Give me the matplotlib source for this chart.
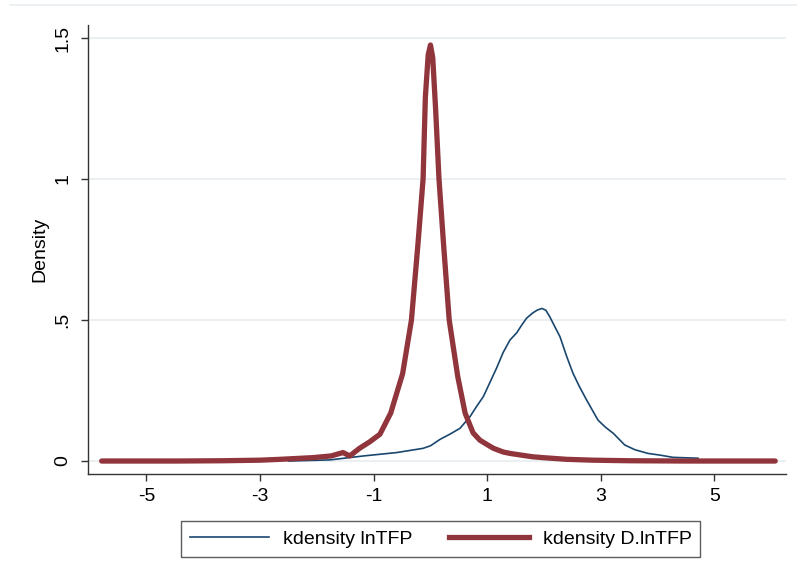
import matplotlib
matplotlib.use("Agg")
import matplotlib.pyplot as plt
from matplotlib.lines import Line2D

plt.rcParams["font.family"] = ["Liberation Sans", "DejaVu Sans"]

# kdensity lnTFP
tfp_x = [-2.5, -1.77, -1.18, -0.595, -0.13, 0.0, 0.17, 0.34, 0.52, 0.695, 0.81, 0.93,
         1.05, 1.165, 1.28, 1.40, 1.52, 1.60, 1.69, 1.80, 1.88, 1.96, 2.03, 2.10,
         2.18, 2.28, 2.40, 2.51, 2.62, 2.75, 2.95, 3.08, 3.22, 3.42, 3.6, 3.83, 4.04,
         4.27, 4.71]
tfp_y = [0.0, 0.004, 0.018, 0.030, 0.045, 0.054, 0.077, 0.095, 0.116, 0.157, 0.193,
         0.228, 0.28, 0.330, 0.385, 0.429, 0.455, 0.48, 0.506, 0.525, 0.535, 0.541,
         0.535, 0.512, 0.48, 0.441, 0.37, 0.311, 0.265, 0.216, 0.145, 0.12, 0.098,
         0.057, 0.04, 0.027, 0.021, 0.013, 0.010]

# kdensity D.lnTFP
dtfp_x = [-5.79, -4.5, -3.65, -3.0, -2.65, -2.07, -1.75, -1.54, -1.42, -1.25, -1.07,
          -0.89, -0.70, -0.49, -0.335, -0.22, -0.13, -0.09, -0.04, 0.0, 0.04, 0.09,
          0.15, 0.23, 0.33, 0.48, 0.61, 0.75, 0.87, 1.0, 1.11, 1.28, 1.40, 1.63,
          1.80, 1.98, 2.40, 2.86, 3.5, 4.5, 6.07]
dtfp_y = [0.0, 0.0, 0.001, 0.003, 0.006, 0.012, 0.018, 0.030, 0.018, 0.045, 0.068,
          0.095, 0.17, 0.31, 0.50, 0.77, 1.00, 1.29, 1.44, 1.475, 1.43, 1.25,
          1.00, 0.77, 0.50, 0.30, 0.17, 0.10, 0.074, 0.058, 0.045, 0.032, 0.027,
          0.020, 0.015, 0.012, 0.006, 0.003, 0.001, 0.0, 0.0]

xticks = [-5, -3, -1, 1, 3, 5]
yticks = [0, 0.5, 1, 1.5]
yticklabels = ["0", ".5", "1", "1.5"]

NAVY = "#1a476f"
MAROON = "#90353b"
GRID = "#e8eff1"
FS = 14

fig = plt.figure(figsize=(7.97, 5.80), dpi=100)
ax = fig.add_axes([88 / 797, 1 - 474 / 580, (786 - 88) / 797, (474 - 25) / 580])

for v in yticks:
    ax.axhline(v, color=GRID, lw=1.3, zorder=0)

ax.plot(tfp_x, tfp_y, color=NAVY, lw=1.2, zorder=2)
ax.plot(dtfp_x, dtfp_y, color=MAROON, lw=3.8, solid_capstyle="round",
        solid_joinstyle="round", zorder=3)

ax.set_xlim(-6.03, 6.26)
ax.set_ylim(-0.046, 1.546)
ax.set_xticks(xticks)
ax.set_xticklabels([str(t) for t in xticks])
ax.set_yticks(yticks)
ax.set_yticklabels(yticklabels, rotation=90, va="center")
ax.tick_params(axis="both", labelsize=FS, length=5, width=1, color="#333333")
ax.tick_params(axis="x", pad=5)
ax.tick_params(axis="y", pad=7)
ax.set_ylabel("Density", fontsize=FS, labelpad=4)

for side in ("top", "right"):
    ax.spines[side].set_visible(False)
for side in ("left", "bottom"):
    ax.spines[side].set_color("#333333")
    ax.spines[side].set_linewidth(1)

# faint outer border line at the top
fig.add_artist(Line2D([10 / 797, 1], [1 - 4.5 / 580, 1 - 4.5 / 580],
                      transform=fig.transFigure, color=GRID, lw=1.2))

handles = [Line2D([], [], color=NAVY, lw=1.2), Line2D([], [], color=MAROON, lw=3.8)]
leg = fig.legend(handles, ["kdensity lnTFP", "kdensity D.lnTFP"], loc="center",
                 bbox_to_anchor=(440.5 / 797, 1 - 539 / 580), ncol=2, fontsize=FS,
                 frameon=True, fancybox=False, edgecolor="#333333",
                 handlelength=4.1, handletextpad=0.7, columnspacing=1.9,
                 borderpad=0.45, borderaxespad=0)
leg.get_frame().set_linewidth(1)

fig.savefig("out.png", dpi=100)
